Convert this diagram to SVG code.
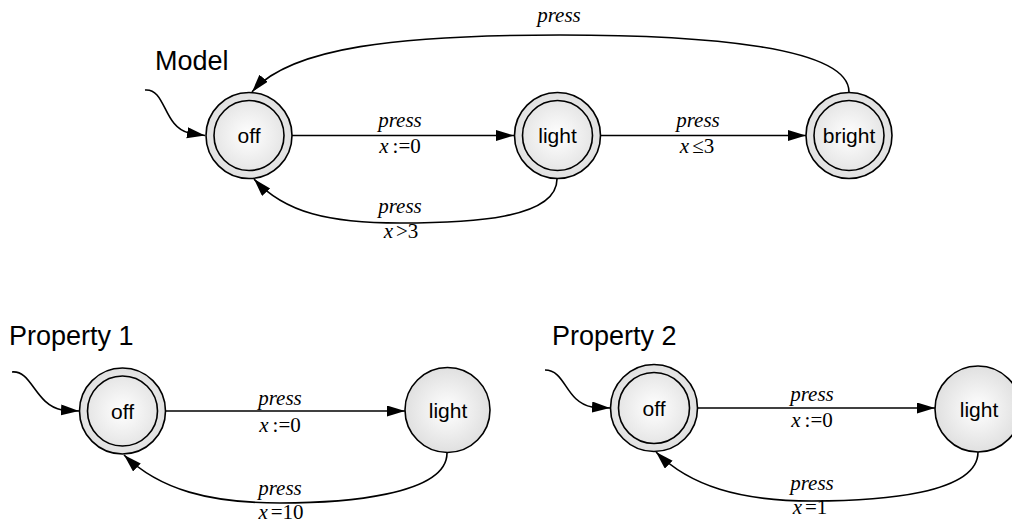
<svg xmlns="http://www.w3.org/2000/svg" width="1012" height="523" viewBox="0 0 1012 523">
<style>
.node{fill:url(#g);stroke:#000;stroke-width:1.6}
.inner{fill:none;stroke:#000;stroke-width:1.6}
.nl{font-family:"Liberation Sans",Arial,sans-serif;font-size:21px;text-anchor:middle;fill:#000}
.title{font-family:"Liberation Sans",Arial,sans-serif;font-size:27px;fill:#000}
.el{font-family:"Liberation Serif","Times New Roman",serif;font-size:21px;text-anchor:middle;fill:#000}
.it{font-style:italic}
.edge{fill:none;stroke:#000;stroke-width:1.6;marker-end:url(#arr)}
</style>
<defs>
<radialGradient id="g" cx="0.5" cy="0.5" r="0.5">
<stop offset="0" stop-color="#ffffff"/>
<stop offset="1" stop-color="#e0e0e0"/>
</radialGradient>
<marker id="arr" markerUnits="userSpaceOnUse" markerWidth="19" markerHeight="12" refX="18" refY="5.5" orient="auto">
<path d="M0,0 L18,5.5 L0,11 z" fill="#000"/>
</marker>
</defs>

<text class="title" x="155" y="70">Model</text>
<text class="title" x="9" y="345">Property 1</text>
<text class="title" x="552" y="345">Property 2</text>

<g id="connectors">
<path class="edge" d="M145,90 C166,88 163,127 189,133 L205,135.5"/>
<path class="edge" d="M292,135.5 L514,135.5"/>
<path class="edge" d="M601,135.5 L806,135.5"/>
<path class="edge" d="M557,179 C557,219 470,223 400,223 C330,223 285,213 254,179"/>
<path class="edge" d="M849,92 C849,46 700,35 560,35 C400,35 290,47 252,92"/>
<path class="edge" d="M12,372 C32,370 35,405 62,410 L79,411"/>
<path class="edge" d="M166,411 L405,411"/>
<path class="edge" d="M447,453 C447,496 340,503 280,503 C210,503 160,490 124,455"/>
<path class="edge" d="M545,370 C566,370 565,402 592,407 L610,408"/>
<path class="edge" d="M698,408 L935,408"/>
<path class="edge" d="M978,452 C978,494 880,501 812,501 C740,501 690,486 656,452"/>
</g>

<g id="edge-labels">
<text class="el it" x="400" y="127">press</text>
<text class="el" x="400" y="153"><tspan class="it">x</tspan><tspan dx="4">:=0</tspan></text>
<text class="el it" x="698" y="127">press</text>
<text class="el" x="697" y="153"><tspan class="it">x</tspan><tspan dx="3">≤3</tspan></text>
<text class="el it" x="400" y="213">press</text>
<text class="el" x="401" y="238"><tspan class="it">x</tspan><tspan dx="3">&gt;3</tspan></text>
<text class="el it" x="559" y="22">press</text>
<text class="el it" x="280" y="405">press</text>
<text class="el" x="280" y="432"><tspan class="it">x</tspan><tspan dx="4">:=0</tspan></text>
<text class="el it" x="280" y="495">press</text>
<text class="el" x="281" y="519"><tspan class="it">x</tspan><tspan dx="3">=10</tspan></text>
<text class="el it" x="812" y="401">press</text>
<text class="el" x="812" y="427"><tspan class="it">x</tspan><tspan dx="4">:=0</tspan></text>
<text class="el it" x="812" y="490">press</text>
<text class="el" x="810" y="514"><tspan class="it">x</tspan><tspan dx="3">=1</tspan></text>
</g>

<g id="m-off">
<circle class="node" cx="249" cy="135.5" r="43"/>
<circle class="inner" cx="249" cy="135.5" r="35"/>
<text class="nl" x="249" y="143">off</text>
</g>
<g id="m-light">
<circle class="node" cx="557.5" cy="135.5" r="43"/>
<circle class="inner" cx="557.5" cy="135.5" r="35"/>
<text class="nl" x="557.5" y="143">light</text>
</g>
<g id="m-bright">
<circle class="node" cx="849" cy="135.5" r="43"/>
<circle class="inner" cx="849" cy="135.5" r="35"/>
<text class="nl" x="849" y="143">bright</text>
</g>
<g id="p1-off">
<circle class="node" cx="122.5" cy="411" r="43"/>
<circle class="inner" cx="122.5" cy="411" r="35"/>
<text class="nl" x="122.5" y="418.5">off</text>
</g>
<g id="p1-light">
<circle class="node" cx="447.5" cy="410" r="42.5"/>
<text class="nl" x="448" y="418">light</text>
</g>
<g id="p2-off">
<circle class="node" cx="654" cy="408" r="43.5"/>
<circle class="inner" cx="654" cy="408" r="35.5"/>
<text class="nl" x="654" y="415.5">off</text>
</g>
<g id="p2-light">
<circle class="node" cx="978" cy="409" r="43"/>
<text class="nl" x="979" y="416.5">light</text>
</g>
</svg>
